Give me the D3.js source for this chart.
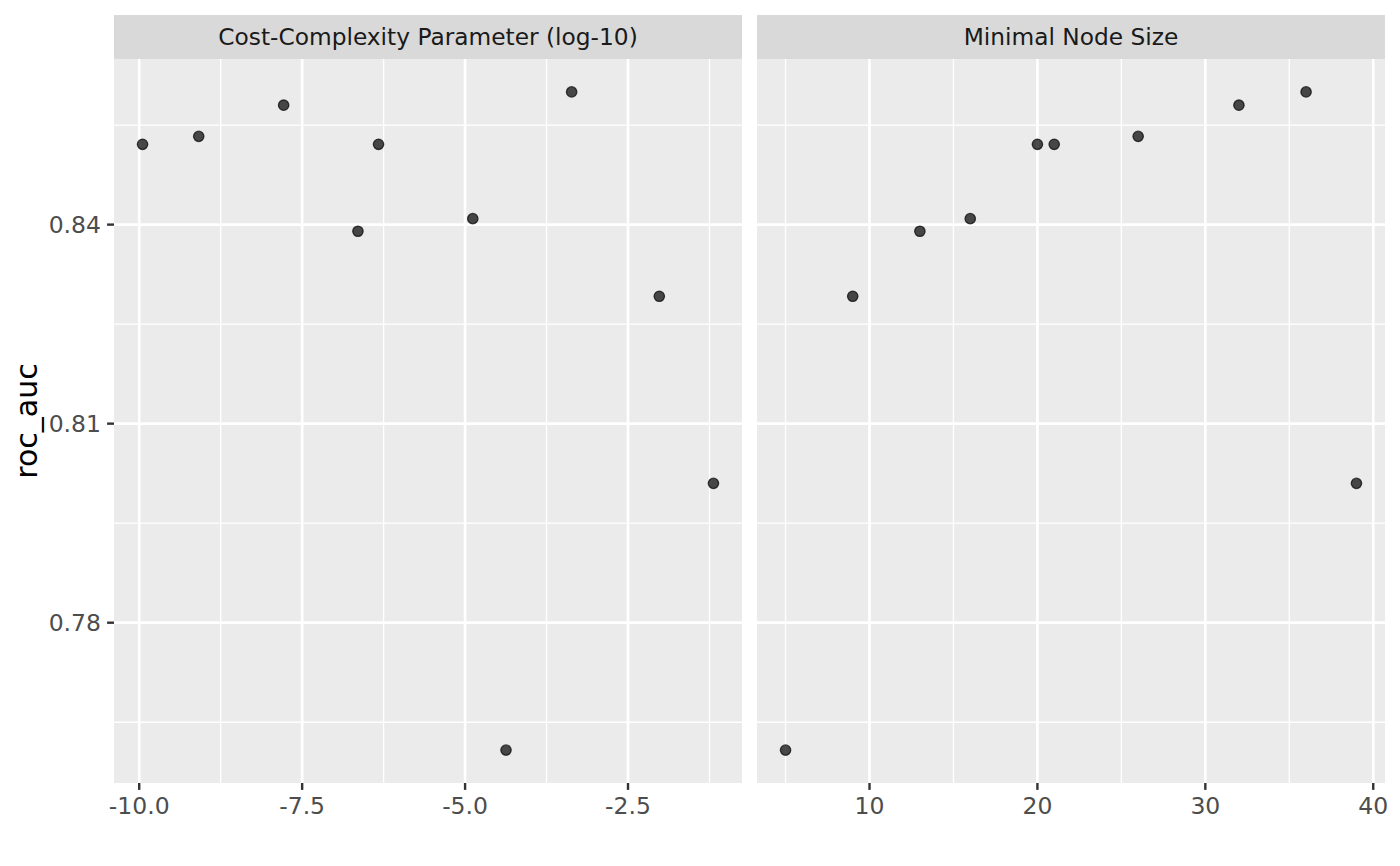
<!DOCTYPE html>
<html>
<head>
<meta charset="utf-8">
<script src="https://cdn.jsdelivr.net/npm/d3@7"></script>
<style>
  html, body { margin: 0; padding: 0; background: #ffffff; }
  svg { display: block; }
  text { font-family: "DejaVu Sans", sans-serif; }
</style>
</head>
<body>
<svg id="chart" width="1400" height="866"></svg>
<script>
// ---- data ----
const costComplexity = [-9.949, -9.087, -7.784, -6.644, -6.328, -4.882, -4.372, -3.365, -2.020, -1.189];
const minN           = [20, 26, 32, 13, 21, 16, 5, 36, 9, 39];
const rocAuc         = [0.8521, 0.8533, 0.8580, 0.8390, 0.8521, 0.8409, 0.7608, 0.8600, 0.8292, 0.8010];
const panelTitles    = ["Cost-Complexity Parameter (log-10)", "Minimal Node Size"];
const xTicksLeft     = [-10.0, -7.5, -5.0, -2.5];
const xTickLabelsLeft = ["-10.0", "-7.5", "-5.0", "-2.5"];
const xTicksRight    = [10, 20, 30, 40];
const xTickLabelsRight = ["10", "20", "30", "40"];
const yTicks         = [0.78, 0.81, 0.84];
const yTickLabels    = ["0.78", "0.81", "0.84"];
const yTitle         = "roc_auc";

(function () {
// ---- layout ----
const svg = d3.select("#chart");
const pTop = 59, pBottom = 783, stripTop = 15;
const tickFont = 23.5, stripFont = 23.3, titleFont = 30;
const panels = [
  { x0: 114, x1: 742, xs: costComplexity, ticks: xTicksLeft, labels: xTickLabelsLeft, title: panelTitles[0] },
  { x0: 757, x1: 1385, xs: minN, ticks: xTicksRight, labels: xTickLabelsRight, title: panelTitles[1] }
];

function expandDomain(vals) {
  const [a, b] = d3.extent(vals);
  const pad = (b - a) * 0.05;
  return [a - pad, b + pad];
}
function minorBreaks(ticks, dom) {
  const step = ticks[1] - ticks[0];
  const out = [];
  for (let i = -1; i < ticks.length; i++) {
    const m = ticks[0] + step * (i + 0.5);
    if (m >= dom[0] && m <= dom[1]) out.push(m);
  }
  return out;
}

const yDom = expandDomain(rocAuc);
const y = d3.scaleLinear().domain(yDom).range([pBottom, pTop]);
const yMinor = minorBreaks(yTicks, yDom);

panels.forEach((p, pi) => {
  const xDom = expandDomain(p.xs);
  const x = d3.scaleLinear().domain(xDom).range([p.x0, p.x1]);
  const xMinor = minorBreaks(p.ticks, xDom);
  const g = svg.append("g");

  // strip
  g.append("rect").attr("x", p.x0).attr("y", stripTop).attr("width", p.x1 - p.x0)
    .attr("height", pTop - stripTop).attr("fill", "#d9d9d9");
  g.append("text").attr("x", (p.x0 + p.x1) / 2).attr("y", 44.5)
    .attr("text-anchor", "middle").attr("font-size", stripFont).attr("fill", "#1a1a1a")
    .text(p.title);

  // panel background
  g.append("rect").attr("x", p.x0).attr("y", pTop).attr("width", p.x1 - p.x0)
    .attr("height", pBottom - pTop).attr("fill", "#ebebeb");

  // minor grid
  g.selectAll(".ymin").data(yMinor).enter().append("line")
    .attr("x1", p.x0).attr("x2", p.x1).attr("y1", d => y(d)).attr("y2", d => y(d))
    .attr("stroke", "#ffffff").attr("stroke-width", 1.33);
  g.selectAll(".xmin").data(xMinor).enter().append("line")
    .attr("y1", pTop).attr("y2", pBottom).attr("x1", d => x(d)).attr("x2", d => x(d))
    .attr("stroke", "#ffffff").attr("stroke-width", 1.33);
  // major grid
  g.selectAll(".ymaj").data(yTicks).enter().append("line")
    .attr("x1", p.x0).attr("x2", p.x1).attr("y1", d => y(d)).attr("y2", d => y(d))
    .attr("stroke", "#ffffff").attr("stroke-width", 2.67);
  g.selectAll(".xmaj").data(p.ticks).enter().append("line")
    .attr("y1", pTop).attr("y2", pBottom).attr("x1", d => x(d)).attr("x2", d => x(d))
    .attr("stroke", "#ffffff").attr("stroke-width", 2.67);

  // x axis ticks & labels
  g.selectAll(".xt").data(p.ticks).enter().append("line")
    .attr("x1", d => x(d)).attr("x2", d => x(d)).attr("y1", pBottom).attr("y2", pBottom + 6.9)
    .attr("stroke", "#333333").attr("stroke-width", 2.4);
  g.selectAll(".xl").data(p.ticks).enter().append("text")
    .attr("x", d => x(d)).attr("y", 814).attr("text-anchor", "middle")
    .attr("font-size", tickFont).attr("fill", "#4d4d4d")
    .text((d, i) => p.labels[i]);

  // y axis ticks & labels on the first panel only
  if (pi === 0) {
    g.selectAll(".yt").data(yTicks).enter().append("line")
      .attr("x1", p.x0 - 6.9).attr("x2", p.x0).attr("y1", d => y(d)).attr("y2", d => y(d))
      .attr("stroke", "#333333").attr("stroke-width", 2.4);
    g.selectAll(".yl").data(yTicks).enter().append("text")
      .attr("x", p.x0 - 13).attr("y", d => y(d) + 8.5).attr("text-anchor", "end")
      .attr("font-size", tickFont).attr("fill", "#4d4d4d")
      .text((d, i) => yTickLabels[i]);
  }

  // points
  g.selectAll(".pt").data(d3.range(rocAuc.length)).enter().append("circle")
    .attr("cx", i => x(p.xs[i])).attr("cy", i => y(rocAuc[i])).attr("r", 5.2)
    .attr("fill", "rgba(0,0,0,0.7)").attr("stroke", "rgba(0,0,0,0.7)").attr("stroke-width", 1.3);
});

// y axis title
svg.append("text").attr("transform", `translate(37,${(pTop + pBottom) / 2}) rotate(-90)`)
  .attr("text-anchor", "middle").attr("font-size", titleFont).attr("fill", "#000000")
  .text(yTitle);
})();
</script>
</body>
</html>
